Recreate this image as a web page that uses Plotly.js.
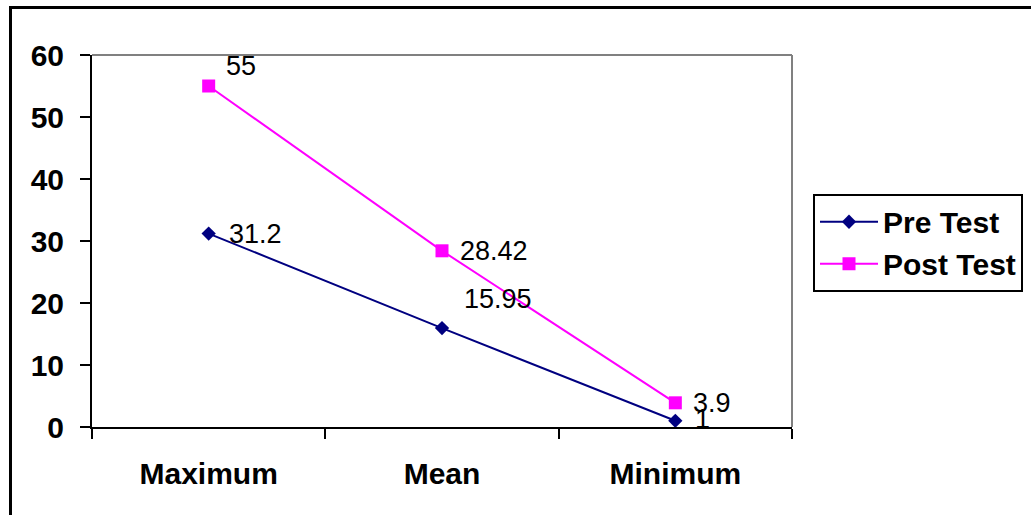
<!DOCTYPE html>
<html>
<head>
<meta charset="utf-8">
<script src="https://cdn.plot.ly/plotly-3.0.1.min.js"></script>
<style>
  html, body { margin: 0; padding: 0; background: #fff; overflow: hidden; }
  #wrap { position: relative; width: 1031px; height: 515px; }
  #chart { width: 1031px; height: 515px; }
  #frame { position: absolute; left: 9px; top: 6px; width: 1100px; height: 600px;
           border: 3px solid #000; pointer-events: none; box-sizing: border-box; }
</style>
</head>
<body>
<div id="wrap">
  <div id="chart"></div>
  <div id="frame"></div>
</div>
<script>
// ---- data ----
const categories = ["Maximum", "Mean", "Minimum"];
const preTest = [31.2, 15.95, 1];
const postTest = [55, 28.42, 3.9];
const yTicks = [0, 10, 20, 30, 40, 50, 60];

// label offsets (px) for data labels: [dx, dy]
const preOffsets = [[18, 0], [20, 29], [18, 2]];
const postOffsets = [[15, 20], [16, 0], [16, 0]];

const FONT = "Liberation Sans, Arial, sans-serif";

const traces = [
  {
    name: "Pre Test", x: categories, y: preTest, type: "scatter", mode: "lines+markers",
    line: { color: "#000080", width: 2 },
    marker: { symbol: "diamond", size: 11, color: "#000080" },
    legendgroup: "a"
  },
  {
    name: "Post Test", x: categories, y: postTest, type: "scatter", mode: "lines+markers",
    line: { color: "#FF00FF", width: 2 },
    marker: { symbol: "square", size: 13, color: "#FF00FF" },
    legendgroup: "b"
  }
];

const annotations = [];
function addLabels(vals, offs) {
  vals.forEach((v, i) => {
    annotations.push({
      x: categories[i], y: v, xref: "x", yref: "y", text: String(v),
      showarrow: false, xanchor: "left", yanchor: "middle",
      xshift: offs[i][0], yshift: offs[i][1],
      font: { family: FONT, size: 27, color: "#000" }
    });
  });
}
addLabels(preTest, preOffsets);
addLabels(postTest, postOffsets);

const layout = {
  width: 1031, height: 515,
  margin: { l: 92, r: 239, t: 55, b: 88, pad: 0, autoexpand: false },
  paper_bgcolor: "#fff", plot_bgcolor: "#fff",
  showlegend: true,
  legend: {
    x: 1.03, y: 0.627, xanchor: "left", yanchor: "top",
    bordercolor: "#000", borderwidth: 2, bgcolor: "#fff",
    font: { family: FONT, size: 30, color: "#000", weight: "bold" },
    traceorder: "grouped", tracegroupgap: 0, itemwidth: 58
  },
  xaxis: {
    type: "category", range: [-0.5, 2.5], tickson: "boundaries",
    showline: true, linecolor: "#000", linewidth: 2,
    ticks: "outside", ticklen: 10, tickwidth: 2, tickcolor: "#000",
    showgrid: false, zeroline: false, fixedrange: true, automargin: false,
    tickfont: { family: FONT, size: 30, color: "#000", weight: "bold" },
    ticklabelstandoff: 19
  },
  yaxis: {
    range: [0, 60], tickvals: yTicks, ticktext: yTicks.map(String),
    showline: true, linecolor: "#000", linewidth: 2,
    ticks: "outside", ticklen: 10, tickwidth: 2, tickcolor: "#000",
    showgrid: false, zeroline: false, fixedrange: true, automargin: false,
    tickfont: { family: FONT, size: 30, color: "#000", weight: "bold" },
    ticklabelstandoff: 10
  },
  shapes: [
    { type: "line", xref: "paper", yref: "paper", x0: 0, x1: 1, y0: 1, y1: 1,
      line: { color: "#808080", width: 2 } },
    { type: "line", xref: "paper", yref: "paper", x0: 1, x1: 1, y0: 0, y1: 1,
      line: { color: "#808080", width: 2 } }
  ],
  annotations: annotations
};

Plotly.newPlot("chart", traces, layout, { displayModeBar: false, staticPlot: true });
</script>
</body>
</html>
